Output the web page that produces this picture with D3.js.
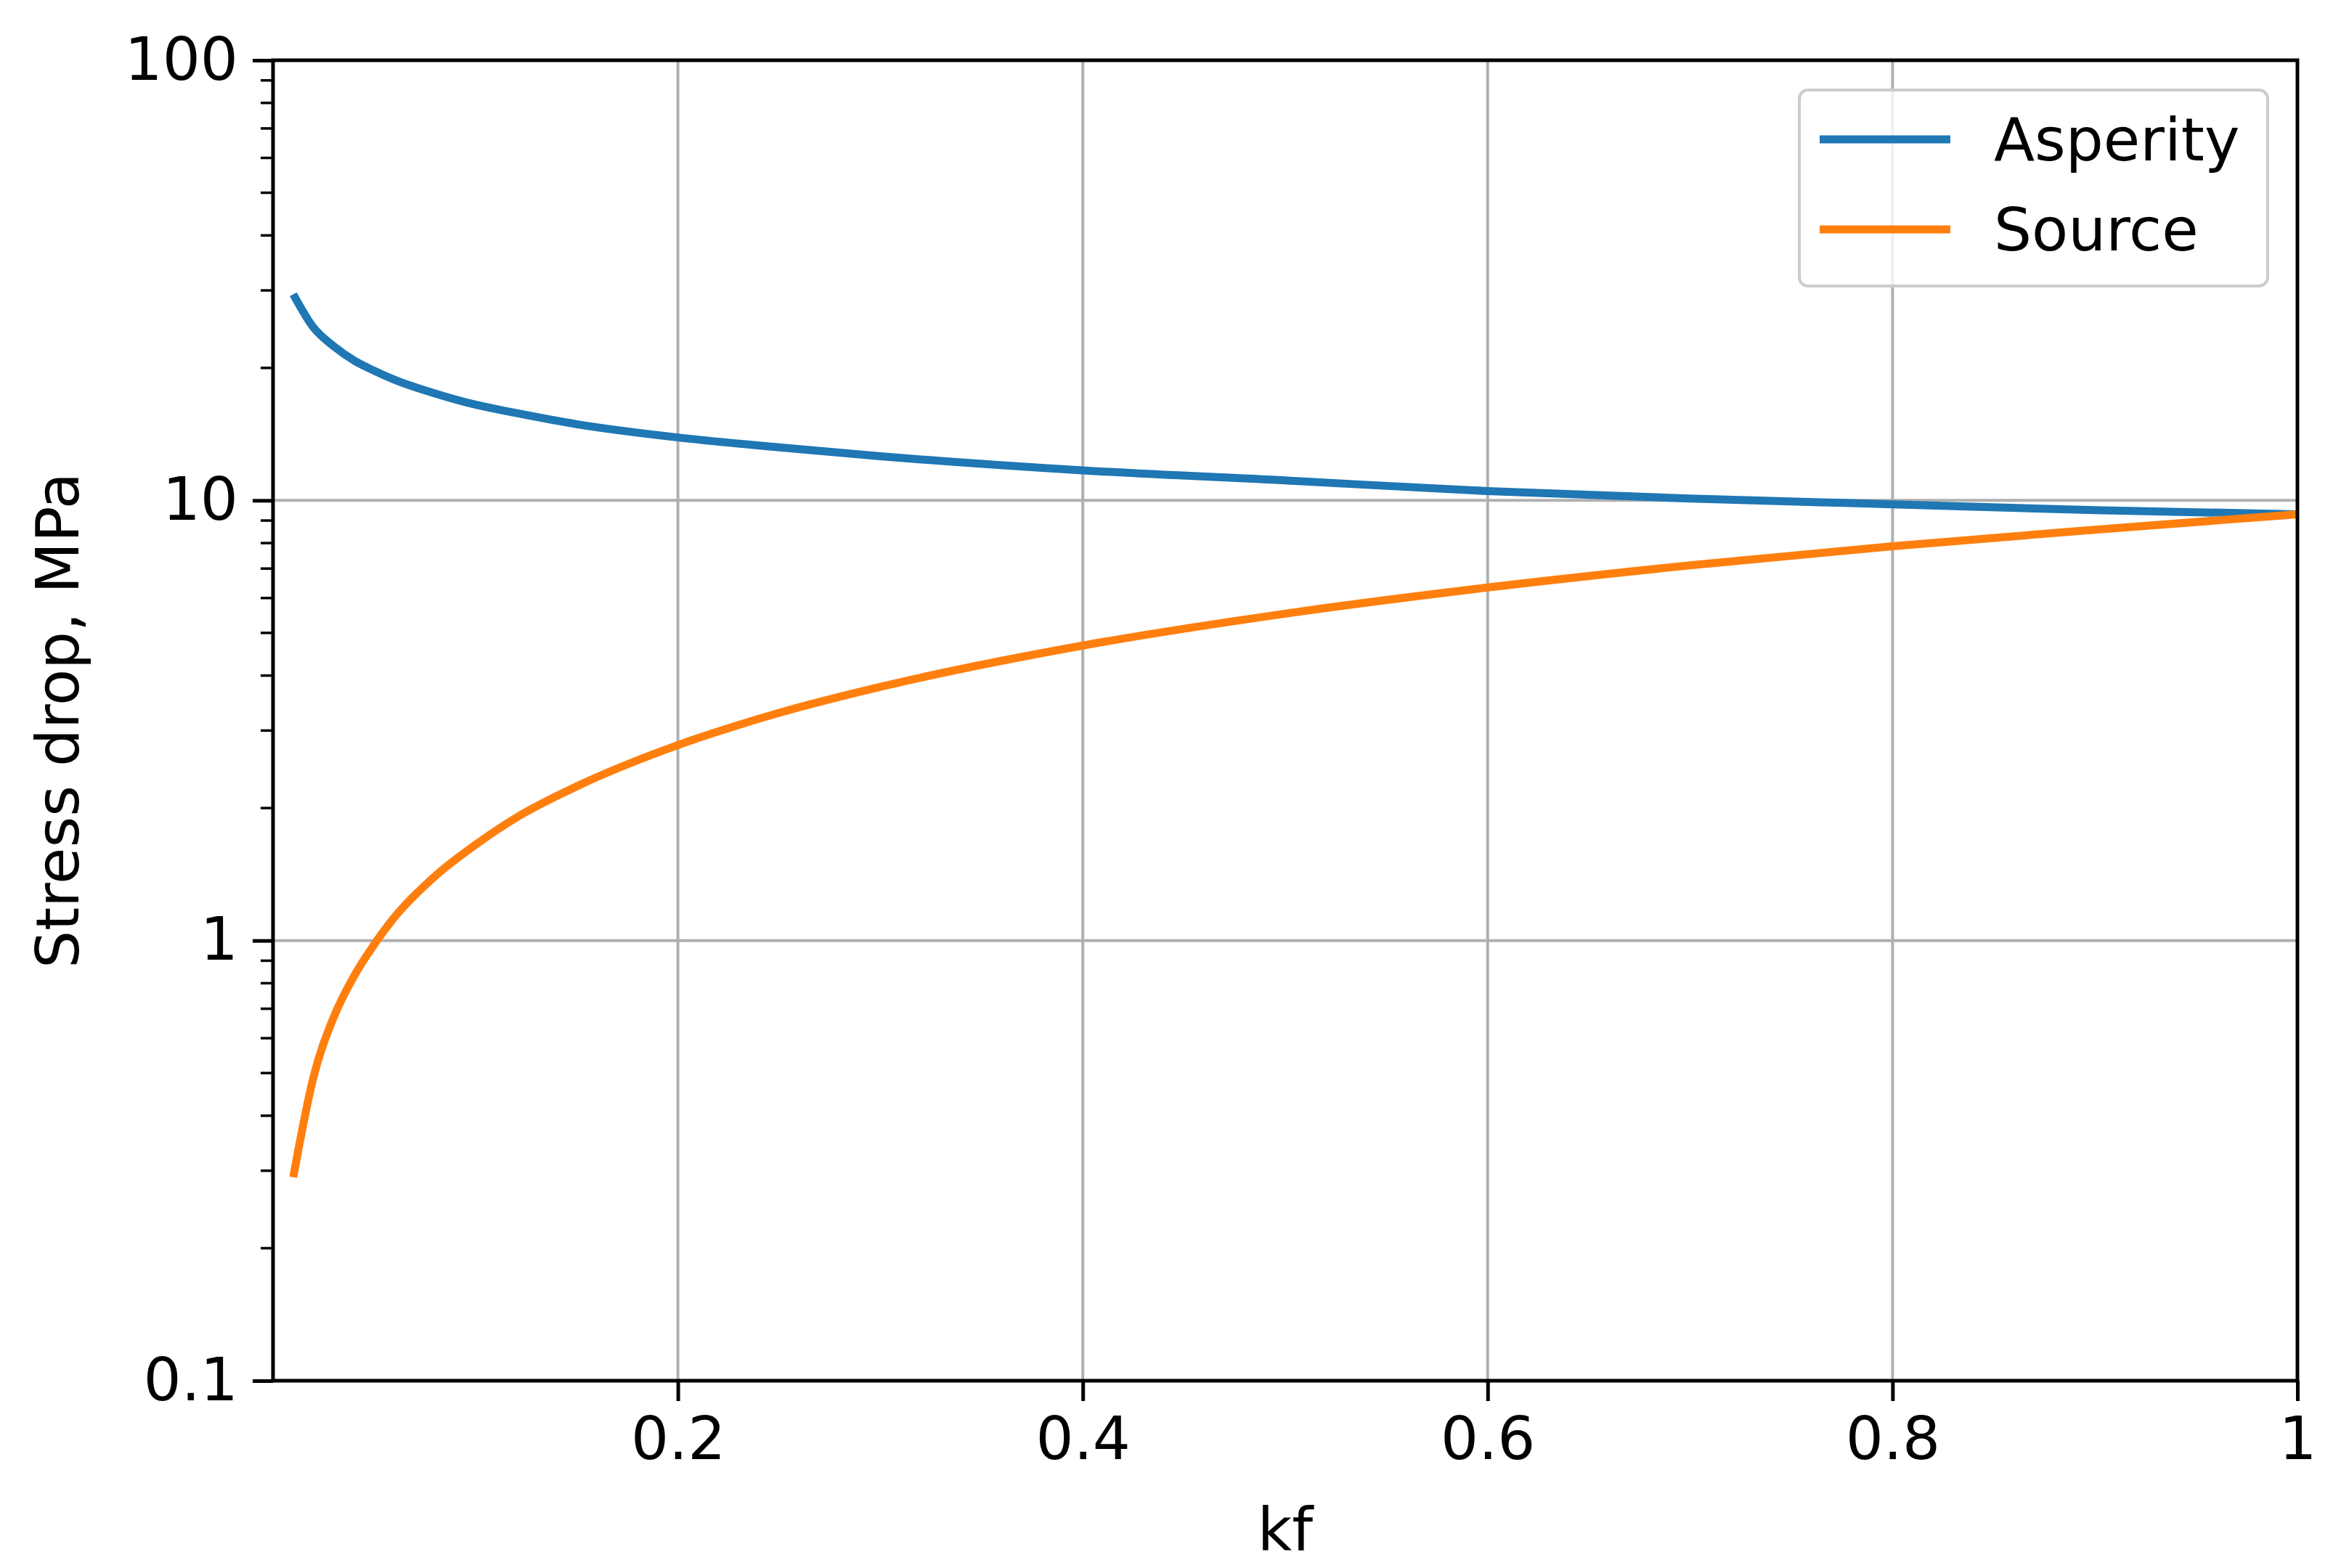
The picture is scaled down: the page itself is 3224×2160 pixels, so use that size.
<!DOCTYPE html>
<html>
<head>
<meta charset="utf-8">
<script src="https://cdn.jsdelivr.net/npm/d3@7"></script>
<style>
  body { margin: 0; background: #fff; }
  text { font-family: 'DejaVu Sans', sans-serif; fill: #000; }
</style>
</head>
<body>
<svg id="chart" width="3224" height="2160"></svg>
<script>
const kf = [0.01, 0.02, 0.03, 0.04, 0.05, 0.06, 0.08, 0.1, 0.12, 0.15, 0.2, 0.25, 0.3, 0.4, 0.5, 0.6, 0.7, 0.8, 0.9, 1.0];
const asperity = [29.4, 24.7, 22.4, 20.8, 19.7, 18.8, 17.5, 16.5, 15.8, 14.9, 13.9, 13.2, 12.6, 11.7, 11.1, 10.5, 10.1, 9.8, 9.5, 9.3];
const source = [0.29, 0.49, 0.67, 0.83, 0.98, 1.13, 1.40, 1.65, 1.90, 2.24, 2.78, 3.29, 3.77, 4.68, 5.53, 6.34, 7.12, 7.87, 8.58, 9.3];
const xTicks = [0.2, 0.4, 0.6, 0.8, 1];
const yTicks = [0.1, 1, 10, 100];
const seriesNames = ['Asperity', 'Source'];
const colors = ['#1f77b4', '#ff7f0e'];

const margin = {left: 376, right: 3224 - 3164, top: 83, bottom: 2160 - 1902};
const width = 3224 - margin.left - margin.right;
const height = 2160 - margin.top - margin.bottom;

const svg = d3.select('#chart');
const g = svg.append('g').attr('transform', `translate(${margin.left},${margin.top})`);

const x = d3.scaleLinear().domain([0, 1]).range([0, width]);
const y = d3.scaleLog().domain([0.1, 100]).range([height, 0]);

// grid
g.selectAll('.gx').data(xTicks).join('line')
  .attr('x1', d => x(d)).attr('x2', d => x(d)).attr('y1', 0).attr('y2', height)
  .attr('stroke', '#b0b0b0').attr('stroke-width', 4);
g.selectAll('.gy').data(yTicks).join('line')
  .attr('x1', 0).attr('x2', width).attr('y1', d => y(d)).attr('y2', d => y(d))
  .attr('stroke', '#b0b0b0').attr('stroke-width', 4);

// minor y ticks
const minor = [];
[0.1, 1, 10].forEach(b => { for (let k = 2; k <= 9; k++) minor.push(b * k); });
g.selectAll('.my').data(minor).join('line')
  .attr('x1', -17).attr('x2', 0).attr('y1', d => y(d)).attr('y2', d => y(d))
  .attr('stroke', '#000').attr('stroke-width', 3.5);

// axes
const xAxis = g.append('g').attr('transform', `translate(0,${height})`)
  .call(d3.axisBottom(x).tickValues(xTicks).tickFormat(d3.format('~g')).tickSize(28).tickPadding(22));
const yAxis = g.append('g')
  .call(d3.axisLeft(y).tickValues(yTicks).tickFormat(d3.format('~g')).tickSize(28).tickPadding(20));
[xAxis, yAxis].forEach(a => {
  a.select('.domain').remove();
  a.selectAll('line').attr('stroke', '#000').attr('stroke-width', 5);
  a.selectAll('text').style('font-size', '82px').attr('font-family', 'DejaVu Sans');
});

// lines
const line = d3.line().x((d, i) => x(kf[i])).y(d => y(d)).curve(d3.curveMonotoneX);
[asperity, source].forEach((s, i) => {
  g.append('path').datum(s).attr('d', line)
    .attr('fill', 'none').attr('stroke', colors[i]).attr('stroke-width', 11);
});

// frame
g.append('rect').attr('width', width).attr('height', height)
  .attr('fill', 'none').attr('stroke', '#000').attr('stroke-width', 5);

// labels
svg.append('text').attr('x', margin.left + width / 2).attr('y', 2135)
  .attr('text-anchor', 'middle').style('font-size', '82px').text('kf');
svg.append('text')
  .attr('transform', `translate(108,${margin.top + height / 2}) rotate(-90)`)
  .attr('text-anchor', 'middle').style('font-size', '82px').text('Stress drop, MPa');

// legend
const lg = svg.append('g').attr('transform', 'translate(2478,124)');
lg.append('rect').attr('width', 645).attr('height', 270).attr('rx', 12)
  .attr('fill', '#fff').attr('fill-opacity', 0.8).attr('stroke', '#cccccc').attr('stroke-width', 4);
seriesNames.forEach((n, i) => {
  const cy = 68 + i * 124;
  lg.append('line').attr('x1', 28).attr('x2', 208).attr('y1', cy).attr('y2', cy)
    .attr('stroke', colors[i]).attr('stroke-width', 11);
  lg.append('text').attr('x', 268).attr('y', cy + 29).style('font-size', '82px').text(n);
});
</script>
</body>
</html>
